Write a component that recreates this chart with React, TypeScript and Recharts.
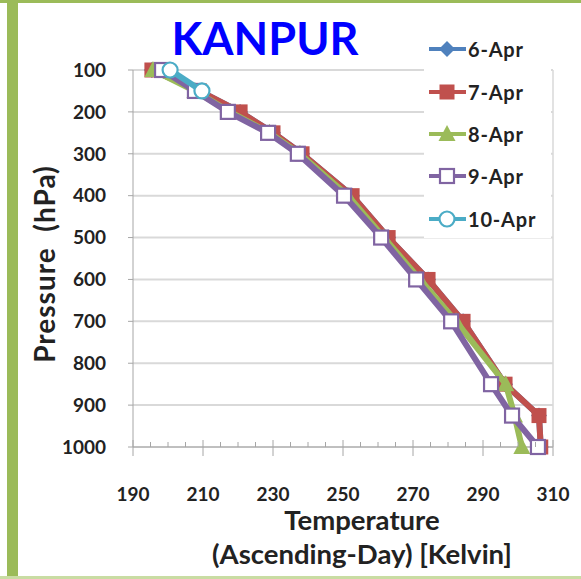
import { CartesianGrid, ReferenceLine, Scatter, ScatterChart, XAxis, YAxis } from 'recharts';

const pressure = [100, 150, 200, 250, 300, 400, 500, 600, 700, 850, 925, 1000];
const apr6 = [195.4, 209, 220.6, 230, 238.3, 252.6, 262.9, 274.3, 284.3, 296.3, 306, 306.5];
const apr7 = [195.4, 209, 220.6, 230, 238.3, 252.6, 262.9, 274.3, 284.3, 296.3, 306, 306.5];
const apr8 = [195.7, 207.7, 217.7, 229, 237.7, 251.4, 261.7, 272, 282.3, 296.5, 299, 301.1];
const apr9 = [198.3, 207.7, 217.1, 228.6, 237.1, 250.3, 260.9, 270.9, 280.9, 292.3, 298.3, 305.7];
const apr10Pressure = [100, 150];
const apr10 = [200.6, 209.7];

const xTicks = [190, 195, 200, 205, 210, 215, 220, 225, 230, 235, 240, 245, 250, 255, 260, 265, 270, 275, 280, 285, 290, 295, 300, 305, 310];
const yTicks = [100, 200, 300, 400, 500, 600, 700, 800, 900, 1000];

const FONT = 'Lato, "Open Sans", sans-serif';
const GRID = '#d9d9d9';
const AXIS = '#a6a6a6';

const toPoints = (ps: number[], ts: number[]) => ps.map((p, i) => ({ p, t: ts[i] }));

type Kind = 'diamond' | 'square' | 'triangle' | 'hollowSquare' | 'circle';

const series: { name: string; color: string; kind: Kind; data: { p: number; t: number }[] }[] = [
  { name: '6-Apr', color: '#4F81BD', kind: 'diamond', data: toPoints(pressure, apr6) },
  { name: '7-Apr', color: '#C0504D', kind: 'square', data: toPoints(pressure, apr7) },
  { name: '8-Apr', color: '#9BBB59', kind: 'triangle', data: toPoints(pressure, apr8) },
  { name: '9-Apr', color: '#8064A2', kind: 'hollowSquare', data: toPoints(pressure, apr9) },
  { name: '10-Apr', color: '#4BACC6', kind: 'circle', data: toPoints(apr10Pressure, apr10) },
];

function Marker({ cx, cy, kind, color }: { cx: number; cy: number; kind: Kind; color: string }) {
  if (cx == null || cy == null) return null;
  switch (kind) {
    case 'diamond':
      return <polygon points={`${cx},${cy - 8} ${cx + 8},${cy} ${cx},${cy + 8} ${cx - 8},${cy}`} fill={color} />;
    case 'square':
      return <rect x={cx - 7.5} y={cy - 7.5} width={15} height={15} fill={color} />;
    case 'triangle':
      return <polygon points={`${cx},${cy - 9} ${cx + 8.5},${cy + 7} ${cx - 8.5},${cy + 7}`} fill={color} />;
    case 'hollowSquare':
      return <rect x={cx - 7} y={cy - 7} width={14} height={14} fill="#fff" stroke={color} strokeWidth={2.2} />;
    case 'circle':
      return <circle cx={cx} cy={cy} r={7.5} fill="#fff" stroke={color} strokeWidth={2.2} />;
  }
}

function XTick(props: any) {
  const { x, y, payload } = props;
  const v = payload.value;
  const major = (v - 190) % 20 === 0;
  return (
    <g>
      <line x1={x} x2={x} y1={major ? y - 7 : y - 5} y2={major ? y + 9 : y} stroke={AXIS} />
      {major && (
        <text x={x} y={y + 46} textAnchor="middle" dominantBaseline="central" fontFamily={FONT} fontWeight={700} fontSize={19} fill="#222">
          {v}
        </text>
      )}
    </g>
  );
}

function LegendBox() {
  return (
    <div style={{ position: 'absolute', left: 424, top: 26, background: '#fff', width: 127, height: 212, paddingTop: 2, boxSizing: 'border-box' }}>
      {series.map((s) => (
        <div key={s.name} style={{ display: 'flex', alignItems: 'center', height: 42.4 }}>
          <svg width={40} height={20} style={{ marginLeft: 4 }}>
            <line x1={1} x2={38} y1={10} y2={10} stroke={s.color} strokeWidth={4} />
            <Marker cx={19} cy={10} kind={s.kind} color={s.color} />
          </svg>
          <span style={{ fontFamily: FONT, fontWeight: 700, fontSize: 20, letterSpacing: 0.8, color: '#222', marginLeft: 0 }}>{s.name}</span>
        </div>
      ))}
    </div>
  );
}

export default function App() {
  return (
    <div style={{ position: 'absolute', left: 0, top: 0, width: 581, height: 579, background: '#fff', overflow: 'hidden' }}>
      <div style={{ position: 'absolute', left: 0, top: 0, width: 581, height: 3, background: '#9BBB59' }} />
      <div style={{ position: 'absolute', left: 7, top: 0, width: 11, height: 579, background: '#9BBB59' }} />
      <div style={{ position: 'absolute', left: 0, top: 576, width: 581, height: 3, background: '#c9dca3' }} />

      <ScatterChart width={581} height={579} margin={{ top: 70, right: 28, bottom: 0, left: 0 }}>
        <CartesianGrid horizontal vertical={false} stroke={GRID} strokeWidth={2} />
        <ReferenceLine x={310} stroke={GRID} strokeWidth={1.5} />
        <XAxis
          type="number"
          dataKey="t"
          domain={[190, 310]}
          ticks={xTicks}
          interval={0}
          tickSize={0}
          tickMargin={0}
          tickLine={false}
          tick={<XTick />}
          axisLine={{ stroke: AXIS }}
          height={132}
        />
        <YAxis
          type="number"
          dataKey="p"
          domain={[100, 1000]}
          ticks={yTicks}
          interval={0}
          reversed
          width={133}
          tickSize={5}
          tickMargin={22}
          tickLine={{ stroke: AXIS }}
          axisLine={{ stroke: AXIS }}
          tick={{ fontFamily: FONT, fontWeight: 700, fontSize: 19, fill: '#222' }}
        />
        {series.map((s) => (
          <Scatter
            key={s.name}
            name={s.name}
            data={s.data}
            fill={s.color}
            line={{ stroke: s.color, strokeWidth: 6 }}
            lineType="joint"
            isAnimationActive={false}
            shape={(p: any) => <Marker cx={p.cx} cy={p.cy} kind={s.kind} color={s.color} />}
          />
        ))}
      </ScatterChart>

      <LegendBox />
      <div style={{ position: 'absolute', left: 165, width: 200, top: 10, textAlign: 'center', fontFamily: FONT, fontWeight: 700, fontSize: 45, color: '#0000FF', lineHeight: '56px' }}>
        KANPUR
      </div>
      <div
        style={{
          position: 'absolute',
          left: 44,
          top: 264,
          transform: 'translate(-50%, -50%) rotate(-90deg)',
          whiteSpace: 'pre',
          fontFamily: FONT,
          fontWeight: 700,
          fontSize: 28,
          letterSpacing: 1,
          color: '#222',
        }}
      >
        {'Pressure  (hPa)'}
      </div>
      <div style={{ position: 'absolute', left: 162, width: 400, top: 504, textAlign: 'center', fontFamily: FONT, fontWeight: 700, fontSize: 27.5, color: '#222', lineHeight: '32px' }}>
        Temperature
      </div>
      <div style={{ position: 'absolute', left: 162, width: 400, top: 538, textAlign: 'center', fontFamily: FONT, fontWeight: 700, fontSize: 27.5, color: '#222', lineHeight: '32px', whiteSpace: 'nowrap' }}>
        (Ascending-Day) [Kelvin]
      </div>
    </div>
  );
}
